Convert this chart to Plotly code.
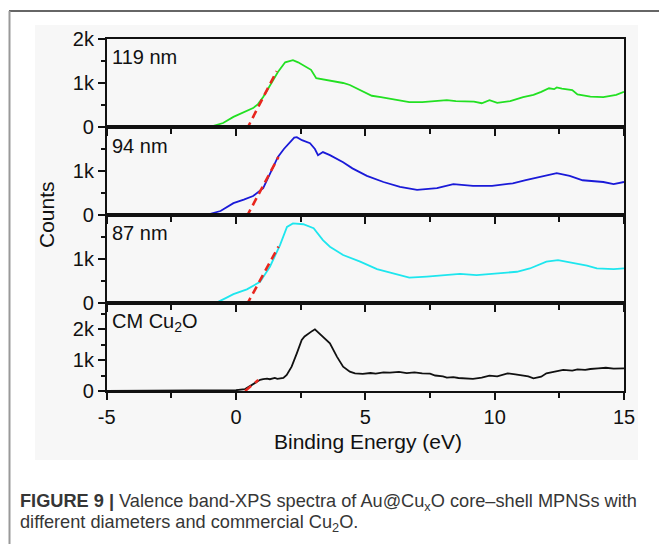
import plotly.graph_objects as go

# ---------------- data ----------------
x119 = [-5, -2, -1.2, -0.9, -0.5, -0.1, 0.3, 0.66, 0.85, 1.05, 1.2, 1.38, 1.62, 1.9, 2.05, 2.2, 2.4, 2.6, 2.9, 3.1,
        3.3, 3.6, 3.9, 4.14, 4.4, 4.65, 4.9, 5.25, 5.6, 5.95, 6.3, 6.7, 7.2, 7.7, 8.15, 8.5, 8.8, 9.2, 9.5, 9.8,
        10.1, 10.6, 11.1, 11.5, 11.8, 12.1, 12.3, 12.4, 12.6, 13.0, 13.2, 13.7, 14.2, 14.7, 15]
y119 = [0, 0, 5, 20, 90, 230, 330, 430, 520, 680, 830, 1000, 1250, 1470, 1500, 1520, 1470, 1400, 1300, 1110,
        1090, 1070, 1040, 1000, 955, 880, 800, 710, 680, 640, 610, 565, 565, 580, 610, 590, 590, 575, 540, 610,
        550, 590, 680, 730, 800, 880, 860, 900, 870, 840, 740, 690, 680, 730, 800]

x94 = [-5, -1.6, -1.1, -0.6, -0.1, 0.3, 0.66, 1.05, 1.31, 1.62, 1.85, 2.09, 2.25, 2.35, 2.55, 2.86, 3.05, 3.17,
       3.36, 3.63, 4.14, 4.5, 5.06, 5.7, 6.34, 7.0, 7.77, 8.4, 9.16, 9.9, 10.7, 11.2, 11.9, 12.4, 12.9, 13.4,
       14.2, 14.6, 15]
y94 = [0, 0, 10, 90, 270, 350, 430, 610, 950, 1320, 1500, 1660, 1760, 1770, 1700, 1630, 1500, 1360,
       1430, 1360, 1200, 1060, 890, 750, 640, 570, 610, 700, 660, 660, 720, 790, 890, 950, 890, 790,
       750, 700, 750]

x87 = [-5, -1.2, -0.75, -0.4, -0.1, 0.42, 0.93, 1.31, 1.7, 1.97, 2.2, 2.6, 3.0, 3.36, 3.63, 4.14, 4.8, 5.45,
       6.07, 6.7, 7.38, 8.0, 8.66, 9.3, 10.1, 10.86, 11.36, 12.0, 12.45, 12.9, 13.57, 13.95, 14.6, 15]
y87 = [0, 0, 10, 110, 200, 310, 480, 825, 1315, 1730, 1810, 1790, 1700, 1430, 1280, 1090, 940, 770,
       675, 575, 600, 635, 660, 635, 675, 710, 785, 940, 975, 920, 850, 785, 770, 785]

xcm = [-5, -2.0, -1.5, -1.0, -0.5, 0.0, 0.35, 0.6, 0.8, 0.93, 1.05, 1.2, 1.31, 1.5, 1.6, 1.7, 1.83, 1.96,
       2.15, 2.35, 2.54, 2.65, 2.8, 2.95, 3.05, 3.25, 3.45, 3.63, 3.9, 4.14, 4.4, 4.6, 4.9, 5.2, 5.4, 5.7,
       5.95, 6.3, 6.6, 6.9, 7.2, 7.5, 7.7, 8.0, 8.15, 8.4, 8.6, 8.9, 9.16, 9.5, 9.8, 10.1, 10.5, 10.8,
       11.1, 11.3, 11.5, 11.8, 12.0, 12.3, 12.65, 13.0, 13.2, 13.5, 13.7, 14.0, 14.3, 14.6, 15]
ycm = [0, 5, 10, 20, 15, 25, 60, 200, 300, 360, 380, 400, 380, 420, 390, 400, 420, 515,
       785, 1215, 1645, 1760, 1860, 1940, 1990, 1830, 1700, 1540, 1110, 785, 625, 570, 550, 580, 560, 600,
       590, 620, 580, 600, 570, 560, 500, 470, 430, 450, 420, 400, 390, 430, 495, 470, 570, 540,
       495, 470, 410, 460, 570, 620, 680, 660, 700, 680, 710, 730, 750, 720, 730]

# linear band-edge fits (red dashed)
fit119_x = [0.41, 1.57]
fit119_y = [-60, 1270]
fit94_x = [0.41, 1.64]
fit94_y = [-40, 1320]
fit87_x = [0.41, 1.64]
fit87_y = [-45, 1280]
fitcm_x = [0.35, 0.86]
fitcm_y = [0, 355]

panel_labels = ["119 nm", "94 nm", "87 nm", "CM Cu<sub>2</sub>O"]
x_tickvals = [-5, 0, 5, 10, 15]
x_ticktext = ["-5", "0", "5", "10", "15"]
y_tickvals_top = [0, 1000, 2000]
y_ticktext_top = ["0", "1k", "2k"]
y_tickvals_mid = [0, 1000]
y_ticktext_mid = ["0", "1k"]

# ---------------- figure ----------------
W, H = 659, 544
def py(p):
    return 1 - p / H

xdom = [106.7 / W, 624 / W]
bounds = [39, 127, 215, 303, 391]
ydoms = [[py(bounds[i + 1]), py(bounds[i])] for i in range(4)]
yranges = [[0, 2000], [0, 2000], [0, 2000], [0, 2840]]
ytv = [(y_tickvals_top, y_ticktext_top), (y_tickvals_mid, y_ticktext_mid),
       (y_tickvals_mid, y_ticktext_mid), (y_tickvals_top, y_ticktext_top)]

series = [(x119, y119, "#22e022", fit119_x, fit119_y),
          (x94, y94, "#1a1ad8", fit94_x, fit94_y),
          (x87, y87, "#1ee6ee", fit87_x, fit87_y),
          (xcm, ycm, "#111111", fitcm_x, fitcm_y)]

fig = go.Figure()
for i, (xs, ys, col, fx, fy) in enumerate(series):
    ax = "" if i == 0 else str(i + 1)
    fig.add_trace(go.Scatter(x=xs, y=ys, mode="lines", line=dict(color=col, width=1.8),
                             xaxis="x" + ax, yaxis="y" + ax, showlegend=False))
    fig.add_trace(go.Scatter(x=fx, y=fy, mode="lines",
                             line=dict(color="#e8261e", width=2.6, dash="8px,5px"),
                             xaxis="x" + ax, yaxis="y" + ax, showlegend=False))

FONT = "Liberation Sans, Arial, sans-serif"
layout = dict(width=W, height=H, margin=dict(l=0, r=0, t=0, b=0, autoexpand=False),
              paper_bgcolor="white", plot_bgcolor="rgba(0,0,0,0)")
for i in range(4):
    ax = "" if i == 0 else str(i + 1)
    layout["xaxis" + ax] = dict(domain=xdom, range=[-5, 15], anchor="y" + ax, automargin=False,
                                showline=True, mirror=True, linecolor="#111", linewidth=1.5,
                                ticks="outside", ticklen=7, tickwidth=1.5, tickcolor="#111",
                                tickvals=x_tickvals, ticktext=x_ticktext,
                                minor=dict(ticks="outside", dtick=2.5, tick0=-5, ticklen=5,
                                           tickwidth=1.5, tickcolor="#111"),
                                showticklabels=(i == 3), showgrid=False, zeroline=False,
                                tickfont=dict(family=FONT, size=20, color="#111"))
    if i > 0:
        layout["xaxis" + ax]["matches"] = "x"
    layout["yaxis" + ax] = dict(domain=ydoms[i], range=yranges[i], anchor="x" + ax, automargin=False,
                                showline=True, mirror=True, linecolor="#111", linewidth=1.5,
                                ticks="outside", ticklen=7, tickwidth=1.5, tickcolor="#111",
                                tickvals=ytv[i][0], ticktext=ytv[i][1],
                                minor=dict(ticks="outside", dtick=500, tick0=0, ticklen=4,
                                           tickwidth=1.5, tickcolor="#111"),
                                showgrid=False, zeroline=False,
                                tickfont=dict(family=FONT, size=20, color="#111"))
fig.update_layout(**layout)

label_y = [57, 146, 233, 322]
annos = []
for lab, yy in zip(panel_labels, label_y):
    annos.append(dict(text=lab, x=110 / W, y=py(yy), xref="paper", yref="paper",
                      xanchor="left", yanchor="middle", showarrow=False,
                      font=dict(family=FONT, size=20, color="#111")))
annos.append(dict(text="Binding Energy (eV)", x=368 / W, y=py(441), xref="paper", yref="paper",
                  xanchor="center", yanchor="middle", showarrow=False,
                  font=dict(family=FONT, size=21, color="#111")))
annos.append(dict(text="Counts", x=46 / W, y=py(215), xref="paper", yref="paper", textangle=-90,
                  xanchor="center", yanchor="middle", showarrow=False,
                  font=dict(family=FONT, size=21, color="#111")))
cap_font = dict(family="Liberation Sans Narrow, Arial Narrow, Liberation Sans, sans-serif", size=18.2, color="#363636")
annos.append(dict(text="<b>FIGURE 9 |</b> Valence band-XPS spectra of Au@Cu<sub>x</sub>O core–shell MPNSs with",
                  x=18 / W, y=py(502), xref="paper", yref="paper", xanchor="left", yanchor="middle",
                  showarrow=False, font=cap_font))
annos.append(dict(text="different diameters and commercial Cu<sub>2</sub>O.",
                  x=18 / W, y=py(523), xref="paper", yref="paper", xanchor="left", yanchor="middle",
                  showarrow=False, font=cap_font))
fig.update_layout(annotations=annos)

shapes = [
    dict(type="rect", xref="paper", yref="paper", x0=35 / W, x1=638 / W, y0=py(460), y1=py(25),
         fillcolor="#f7f7f7", line=dict(width=0), layer="below"),
    dict(type="line", xref="paper", yref="paper", x0=9 / W, x1=1, y0=py(11), y1=py(11),
         line=dict(color="#333", width=1.5)),
    dict(type="line", xref="paper", yref="paper", x0=9.5 / W, x1=9.5 / W, y0=0, y1=py(11),
         line=dict(color="#999", width=2)),
]
fig.update_layout(shapes=shapes)

fig.write_html("out.html", config={"displayModeBar": False},
               post_script="document.body.style.margin='0';document.body.style.overflow='hidden';")
